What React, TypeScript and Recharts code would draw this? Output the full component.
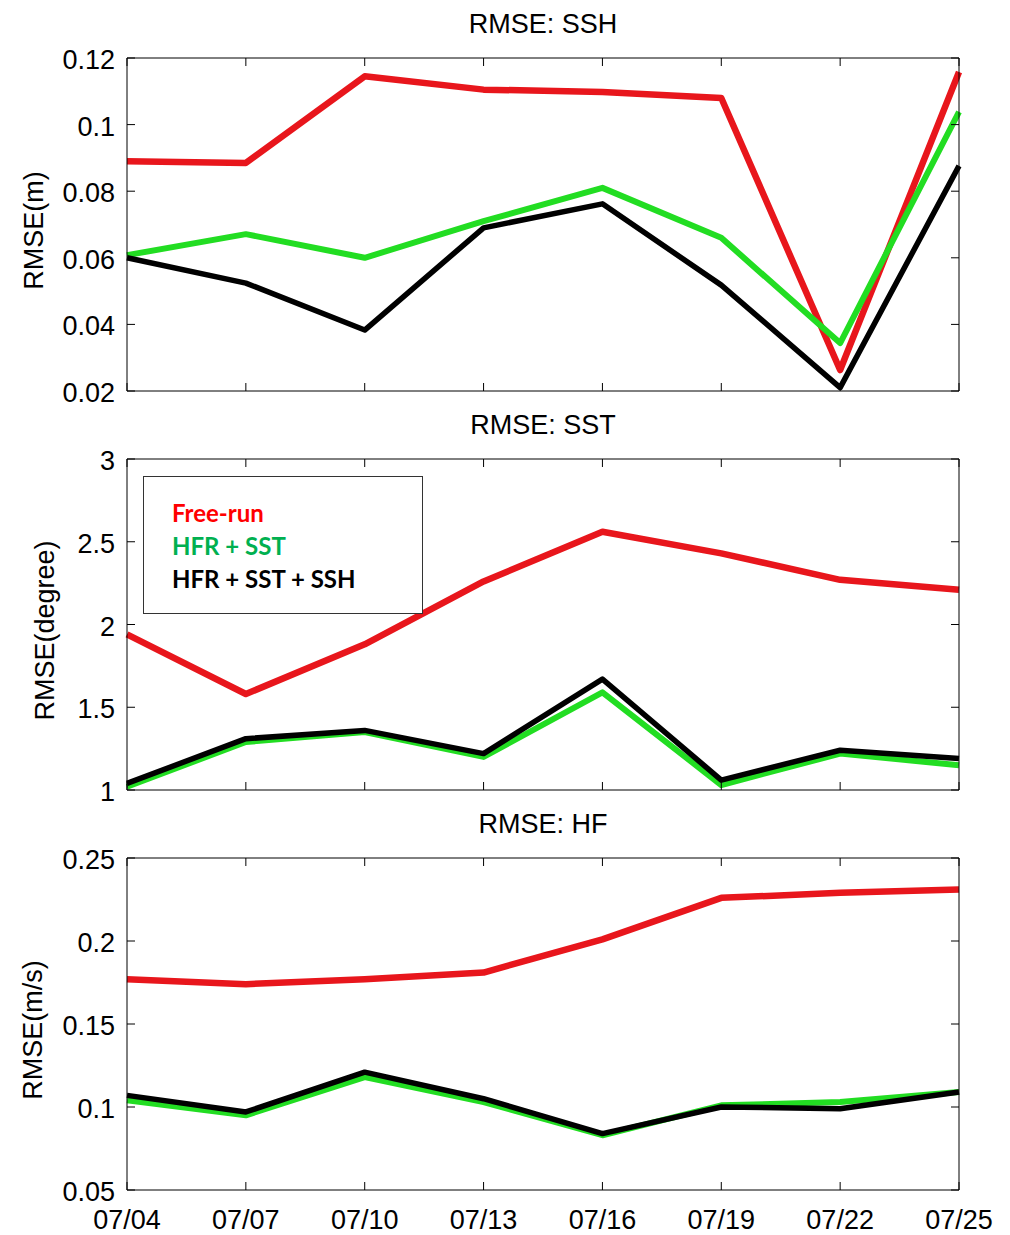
import { LineChart, Line, XAxis, YAxis, Legend } from 'recharts'

const dates = ['07/04', '07/07', '07/10', '07/13', '07/16', '07/19', '07/22', '07/25']

// RMSE: SSH (m)
const sshFree = [0.089, 0.0885, 0.1145, 0.1105, 0.1098, 0.108, 0.0263, 0.1158]
const sshHfrSst = [0.0608, 0.0671, 0.06, 0.071, 0.081, 0.066, 0.0344, 0.1038]
const sshAll = [0.06, 0.0524, 0.0383, 0.069, 0.0762, 0.0518, 0.021, 0.0876]
const sshTicks = [0.02, 0.04, 0.06, 0.08, 0.1, 0.12]

// RMSE: SST (degree)
const sstFree = [1.94, 1.58, 1.88, 2.26, 2.56, 2.43, 2.27, 2.21]
const sstHfrSst = [1.02, 1.29, 1.35, 1.2, 1.59, 1.03, 1.22, 1.15]
const sstAll = [1.04, 1.31, 1.36, 1.22, 1.67, 1.06, 1.24, 1.19]
const sstTicks = [1, 1.5, 2, 2.5, 3]

// RMSE: HF (m/s)
const hfFree = [0.177, 0.174, 0.177, 0.181, 0.201, 0.226, 0.229, 0.231]
const hfHfrSst = [0.104, 0.095, 0.118, 0.103, 0.083, 0.101, 0.103, 0.109]
const hfAll = [0.107, 0.097, 0.121, 0.105, 0.084, 0.1, 0.099, 0.109]
const hfTicks = [0.05, 0.1, 0.15, 0.2, 0.25]

const FONT = '"Liberation Sans", Arial, Helvetica, sans-serif'
const TICK = 8
const RED = '#e8161c'
const GREEN = '#22dd22'

const legendText: Record<string, string> = {
  free: '#ff0000',
  hfrSst: '#00b050',
  all: '#000000',
}

function rows(free: number[], hfrSst: number[], all: number[]) {
  return dates.map((date, i) => ({ date, free: free[i], hfrSst: hfrSst[i], all: all[i] }))
}

const fmt = (v: number) => String(Number(v.toFixed(2)))

function LegendBox({ payload }: any) {
  return (
    <div style={{ paddingTop: 19, paddingLeft: 28, fontFamily: 'Lato, "Open Sans", sans-serif', fontWeight: 700, fontSize: 24, lineHeight: '33px' }}>
      {(payload || []).map((p: any) => (
        <div key={p.dataKey} style={{ color: legendText[p.dataKey] }}>{p.value}</div>
      ))}
    </div>
  )
}

type PanelProps = {
  top: number
  height: number
  plotTop: number
  plotBottom: number
  data: ReturnType<typeof rows>
  domain: [number, number]
  ticks: number[]
  title: string
  yLabel: string
  labelX: number
  showDates?: boolean
  legend?: boolean
}

// plotTop / plotBottom are local pixel rows of the axes box inside the svg
function Panel({ top, height, plotTop, plotBottom, data, domain, ticks, title, yLabel, labelX, showDates, legend }: PanelProps) {
  const xHeight = showDates ? 45 : 1
  return (
    <div style={{ position: 'absolute', left: 0, top }}>
      <LineChart width={1010} height={height} data={data} margin={{ top: plotTop - 1, right: 50, bottom: height - plotBottom - xHeight, left: 0 }}>
        <XAxis
          xAxisId="b"
          dataKey="date"
          height={xHeight}
          interval={0}
          tickSize={0}
          tickMargin={0}
          tickLine={false}
          axisLine={{ stroke: '#000' }}
          tick={(p: any) => (
            <g>
              <line x1={p.x} y1={p.y} x2={p.x} y2={p.y - TICK} stroke="#000" />
              {showDates && (
                <text x={p.x} y={p.y + 39} textAnchor="middle" fontSize={27} fontFamily={FONT} fill="#000">
                  {p.payload.value}
                </text>
              )}
            </g>
          )}
        />
        <XAxis
          xAxisId="t"
          dataKey="date"
          orientation="top"
          height={1}
          interval={0}
          tickSize={0}
          tickMargin={0}
          tickLine={false}
          axisLine={{ stroke: '#000' }}
          tick={(p: any) => <line x1={p.x} y1={p.y} x2={p.x} y2={p.y + TICK} stroke="#000" />}
          label={{
            content: ({ viewBox }: any) => (
              <text x={viewBox.x + viewBox.width / 2} y={viewBox.y - 24} textAnchor="middle" fontSize={27} fontFamily={FONT} fill="#000">
                {title}
              </text>
            ),
          }}
        />
        <YAxis
          yAxisId="l"
          width={127}
          domain={domain}
          ticks={ticks}
          allowDataOverflow
          type="number"
          tickSize={0}
          tickMargin={0}
          tickLine={false}
          axisLine={{ stroke: '#000' }}
          tick={(p: any) => (
            <g>
              <line x1={p.x} y1={p.y} x2={p.x + TICK} y2={p.y} stroke="#000" />
              <text x={p.x - 12} y={p.y + 11} textAnchor="end" fontSize={27} fontFamily={FONT} fill="#000">
                {fmt(p.payload.value)}
              </text>
            </g>
          )}
          label={{
            content: ({ viewBox }: any) => {
              const cx = viewBox.x + labelX
              const cy = viewBox.y + viewBox.height / 2 + 6
              return (
                <text transform={`translate(${cx},${cy}) rotate(-90)`} textAnchor="middle" fontSize={27} fontFamily={FONT} fill="#000">
                  {yLabel}
                </text>
              )
            },
          }}
        />
        <YAxis
          yAxisId="r"
          orientation="right"
          width={1}
          domain={domain}
          ticks={ticks}
          allowDataOverflow
          type="number"
          tickSize={0}
          tickMargin={0}
          tickLine={false}
          axisLine={{ stroke: '#000' }}
          tick={(p: any) => <line x1={p.x} y1={p.y} x2={p.x - TICK} y2={p.y} stroke="#000" />}
        />
        {legend && (
          <Legend
            layout="horizontal"
            verticalAlign="middle"
            align="center"
            wrapperStyle={{ left: 143, top: 76, width: 280, height: 138, border: '1px solid #333', boxSizing: 'border-box', background: '#fff' }}
            content={<LegendBox />}
          />
        )}
        <Line xAxisId="b" yAxisId="l" type="linear" dataKey="free" name="Free-run" stroke={RED} strokeWidth={6.5} strokeLinejoin="round" dot={false} activeDot={false} isAnimationActive={false} />
        <Line xAxisId="b" yAxisId="l" type="linear" dataKey="hfrSst" name="HFR + SST" stroke={GREEN} strokeWidth={6} strokeLinejoin="round" dot={false} activeDot={false} isAnimationActive={false} />
        <Line xAxisId="b" yAxisId="l" type="linear" dataKey="all" name="HFR + SST + SSH" stroke="#000" strokeWidth={5.5} strokeLinejoin="round" dot={false} activeDot={false} isAnimationActive={false} />
      </LineChart>
    </div>
  )
}

export default function App() {
  return (
    <div style={{ position: 'absolute', left: 0, top: 0, width: 1010, height: 1235, background: '#fff' }}>
      <Panel
        top={0}
        height={412}
        plotTop={58}
        plotBottom={391}
        data={rows(sshFree, sshHfrSst, sshAll)}
        domain={[0.02, 0.12]}
        ticks={sshTicks}
        title="RMSE: SSH"
        yLabel="RMSE(m)"
        labelX={43}
      />
      <Panel
        top={400}
        height={412}
        plotTop={59}
        plotBottom={390}
        data={rows(sstFree, sstHfrSst, sstAll)}
        domain={[1, 3]}
        ticks={sstTicks}
        title="RMSE: SST"
        yLabel="RMSE(degree)"
        labelX={54}
        legend
      />
      <Panel
        top={800}
        height={435}
        plotTop={58}
        plotBottom={390}
        data={rows(hfFree, hfHfrSst, hfAll)}
        domain={[0.05, 0.25]}
        ticks={hfTicks}
        title="RMSE: HF"
        yLabel="RMSE(m/s)"
        labelX={42}
        showDates
      />
    </div>
  )
}
